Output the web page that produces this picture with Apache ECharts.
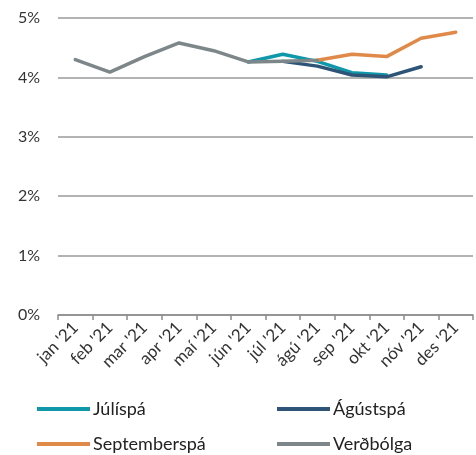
<!DOCTYPE html>
<html><head><meta charset="utf-8">
<script src="https://cdn.jsdelivr.net/npm/echarts@6/dist/echarts.min.js"></script>
<style>html,body{margin:0;padding:0;background:#fff}#c{width:476px;height:455px}</style>
</head><body><div id="c"></div>
<script>
const categories = ["jan '21","feb '21","mar '21","apr '21","maí '21","jún '21","júl '21","ágú '21","sep '21","okt '21","nóv '21","des '21"];
const julispa = [null,null,null,null,null,4.26,4.39,4.27,4.08,4.04,null,null];
const agustspa = [null,null,null,null,null,null,4.27,4.19,4.04,4.01,4.18,null];
const septemberspa = [null,null,null,null,null,null,null,4.29,4.39,4.35,4.66,4.76];
const verdbolga = [4.30,4.09,4.35,4.58,4.45,4.26,4.27,4.29,null,null,null,null];
const seriesNames = ['Júlíspá','Ágústspá','Septemberspá','Verðbólga'];

const FONT = 'Lato';
const chart = echarts.init(document.getElementById('c'), null, {renderer:'canvas'});
const mk = (name, data, color, z) => ({
  name, type:'line', data, z, symbol:'none', connectNulls:false,
  lineStyle:{color, width:3.5, cap:'round', join:'round'}, itemStyle:{color}
});
const leg = (name, left, top) => ({
  left, top, orient:'horizontal', itemGap:0, itemWidth:53, itemHeight:4, icon:'rect', padding:0,
  textStyle:{fontFamily:FONT, fontSize:18, color:'#222', padding:[0,0,0,-2]}, data:[name]
});
chart.setOption({
  animation:false,
  textStyle:{fontFamily:FONT},
  grid:{left:58, right:3, top:18, bottom:140, containLabel:false},
  legend:[
    leg(seriesNames[0], 37, 400),
    leg(seriesNames[1], 277, 400),
    leg(seriesNames[2], 37, 435),
    leg(seriesNames[3], 277, 435)
  ],
  xAxis:{type:'category', data:categories, boundaryGap:true,
    axisLine:{lineStyle:{color:'#8c8c8c', width:1.5}},
    axisTick:{show:true, length:5, lineStyle:{color:'#8c8c8c', width:1.5}},
    axisLabel:{rotate:45, fontSize:17, color:'#333', margin:10, fontFamily:FONT}},
  yAxis:{type:'value', min:0, max:5, interval:1,
    axisLine:{show:false}, axisTick:{show:false},
    splitLine:{lineStyle:{color:'#9a9a9a', width:1.5}},
    axisLabel:{formatter:v=>v+'%', fontSize:16, color:'#333', margin:18, fontFamily:FONT}},
  series:[
    mk(seriesNames[0], julispa, '#0f98aa', 2),
    mk(seriesNames[1], agustspa, '#2e5577', 3),
    mk(seriesNames[2], septemberspa, '#e08a4a', 4),
    mk(seriesNames[3], verdbolga, '#7d8789', 5)
  ]
});
</script></body></html>
